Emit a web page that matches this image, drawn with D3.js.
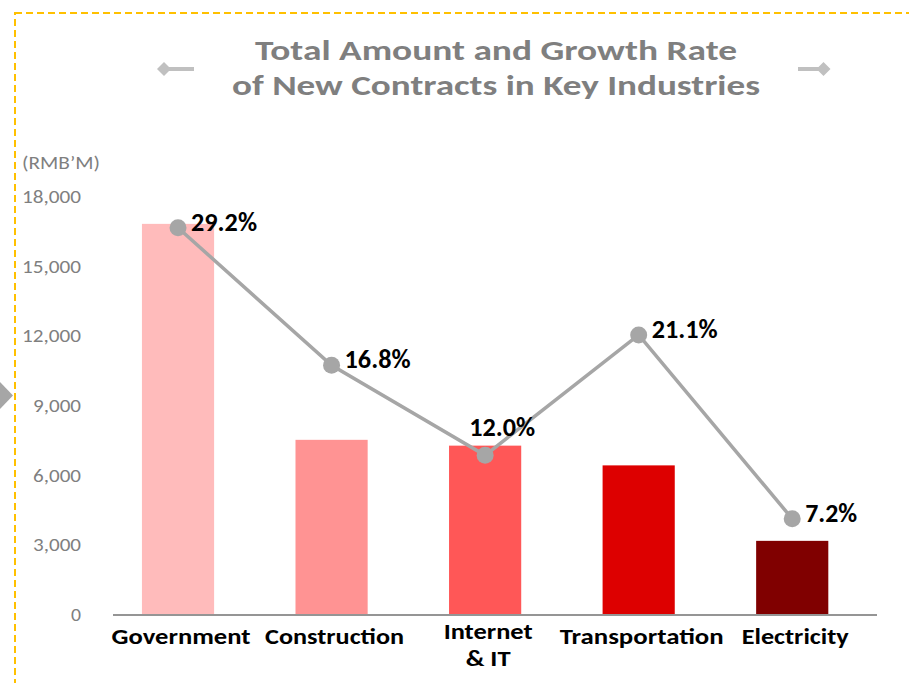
<!DOCTYPE html>
<html>
<head>
<meta charset="utf-8">
<script src="https://cdn.jsdelivr.net/npm/d3@7/dist/d3.min.js"></script>
<style>
  html, body { margin: 0; padding: 0; background: #ffffff; }
  svg { display: block; }
  text { font-family: "Carlito", "Lato", "Open Sans", sans-serif; }
</style>
</head>
<body>
<svg id="chart" width="909" height="683"></svg>
<script>
// ---- data ----
const categories = ["Government", "Construction", "Internet\n& IT", "Transportation", "Electricity"];
const amounts = [16800, 7500, 7250, 6400, 3150];          // RMB'M (bars)
const growthLabels = ["29.2%", "16.8%", "12.0%", "21.1%", "7.2%"];
const growthPlotted = [29.2, 18.8, 12.0, 21.1, 7.2];     // line positions as drawn on the secondary axis
const labelPlacement = ["right", "right", "above", "right", "right"];
const barColors = ["#FFBBBB", "#FF9393", "#FF5757", "#DD0000", "#800000"];
const yTicks = [0, 3000, 6000, 9000, 12000, 15000, 18000];
const titleLines = ["Total Amount and Growth Rate", "of New Contracts in Key Industries"];
const unitLabel = "(RMB\u2019M)";

const svg = d3.select("#chart");

// ---- frame ----
svg.append("rect")
  .attr("x", 15).attr("y", 13).attr("width", 920).attr("height", 720)
  .attr("fill", "none").attr("stroke", "#FFC000").attr("stroke-width", 2)
  .attr("stroke-dasharray", "7,4");

svg.append("polygon")
  .attr("points", "0,382 13,395.5 0,409")
  .attr("fill", "#A6A6A6");

// ---- title ----
const titleWidths = [482, 528];
titleLines.forEach((t, i) => {
  svg.append("text")
    .attr("x", 496).attr("y", 60 + i * 34.5)
    .attr("text-anchor", "middle")
    .attr("font-size", 28).attr("font-weight", "bold")
    .attr("fill", "#7F7F7F")
    .attr("textLength", titleWidths[i]).attr("lengthAdjust", "spacingAndGlyphs")
    .text(t);
});
// title decorations
svg.append("rect").attr("x", 164).attr("y", 67).attr("width", 30).attr("height", 4).attr("fill", "#C0C0C0");
svg.append("polygon").attr("points", "157,69 164,62 171,69 164,76").attr("fill", "#C0C0C0");
svg.append("rect").attr("x", 798).attr("y", 67).attr("width", 25).attr("height", 4).attr("fill", "#C0C0C0");
svg.append("polygon").attr("points", "816.5,69 823.5,62 830.5,69 823.5,76").attr("fill", "#C0C0C0");

// ---- scales ----
const x = d3.scaleBand()
  .domain(categories)
  .range([101.25, 869])
  .paddingInner(0.53).paddingOuter(0.265);
const y = d3.scaleLinear().domain([0, 18000]).range([614, 196]);
const y2 = d3.scaleLinear().domain([0, 31.6]).range([614, 196]);

// ---- y axis (labels only) ----
const yAxis = d3.axisLeft(y).tickValues(yTicks).tickFormat(d3.format(",")).tickSize(0).tickPadding(0);
const gy = svg.append("g").attr("transform", "translate(81,0)").call(yAxis);
gy.select(".domain").remove();
gy.selectAll("text")
  .attr("font-size", 18).attr("fill", "#7F7F7F")
  .attr("font-family", "Carlito, Lato, sans-serif")
  .attr("dy", "0.36em")
  .attr("textLength", function () { const n = this.textContent.length; return n === 6 ? 59 : n === 5 ? 48 : 10; })
  .attr("lengthAdjust", "spacingAndGlyphs");

svg.append("text")
  .attr("x", 22).attr("y", 169)
  .attr("font-size", 18).attr("fill", "#7F7F7F")
  .attr("textLength", 78).attr("lengthAdjust", "spacingAndGlyphs")
  .text(unitLabel);

// ---- bars ----
svg.append("g").selectAll("rect")
  .data(amounts)
  .join("rect")
  .attr("x", (d, i) => x(categories[i]))
  .attr("width", x.bandwidth())
  .attr("y", d => y(d))
  .attr("height", d => y(0) - y(d))
  .attr("fill", (d, i) => barColors[i]);

// ---- x axis line ----
svg.append("line")
  .attr("x1", 113).attr("x2", 877)
  .attr("y1", 615).attr("y2", 615)
  .attr("stroke", "#959595").attr("stroke-width", 2);

// ---- category labels ----
const catWidths = {"Government": [139], "Construction": [139], "Internet\n& IT": [89, 45], "Transportation": [164], "Electricity": [107]};
categories.forEach((c, i) => {
  const lines = c.split("\n");
  const cx = x(c) + x.bandwidth() / 2 + 3;
  const startY = lines.length > 1 ? 639 : 644;
  lines.forEach((ln, j) => {
    svg.append("text")
      .attr("x", cx).attr("y", startY + j * 27)
      .attr("text-anchor", "middle")
      .attr("font-size", 22).attr("font-weight", "bold").attr("fill", "#000000")
      .attr("textLength", catWidths[c][j]).attr("lengthAdjust", "spacingAndGlyphs")
      .text(ln);
  });
});

// ---- growth line ----
const cxOf = i => x(categories[i]) + x.bandwidth() / 2;
const line = d3.line().x((d, i) => cxOf(i)).y(d => y2(d));
svg.append("path")
  .datum(growthPlotted)
  .attr("d", line)
  .attr("fill", "none").attr("stroke", "#A6A6A6").attr("stroke-width", 3.5);

svg.append("g").selectAll("circle")
  .data(growthPlotted)
  .join("circle")
  .attr("cx", (d, i) => cxOf(i))
  .attr("cy", d => y2(d))
  .attr("r", 8.5)
  .attr("fill", "#A6A6A6");

svg.append("g").selectAll("text")
  .data(growthPlotted)
  .join("text")
  .attr("x", (d, i) => labelPlacement[i] === "above" ? cxOf(i) + 17 : cxOf(i) + 13)
  .attr("y", (d, i) => labelPlacement[i] === "above" ? y2(d) - 19 : y2(d) + 3)
  .attr("text-anchor", (d, i) => labelPlacement[i] === "above" ? "middle" : "start")
  .attr("font-size", 26).attr("font-weight", "bold").attr("fill", "#000000")
  .attr("textLength", (d, i) => growthLabels[i].length === 4 ? 52 : 66)
  .attr("lengthAdjust", "spacingAndGlyphs")
  .text((d, i) => growthLabels[i]);
</script>
</body>
</html>
